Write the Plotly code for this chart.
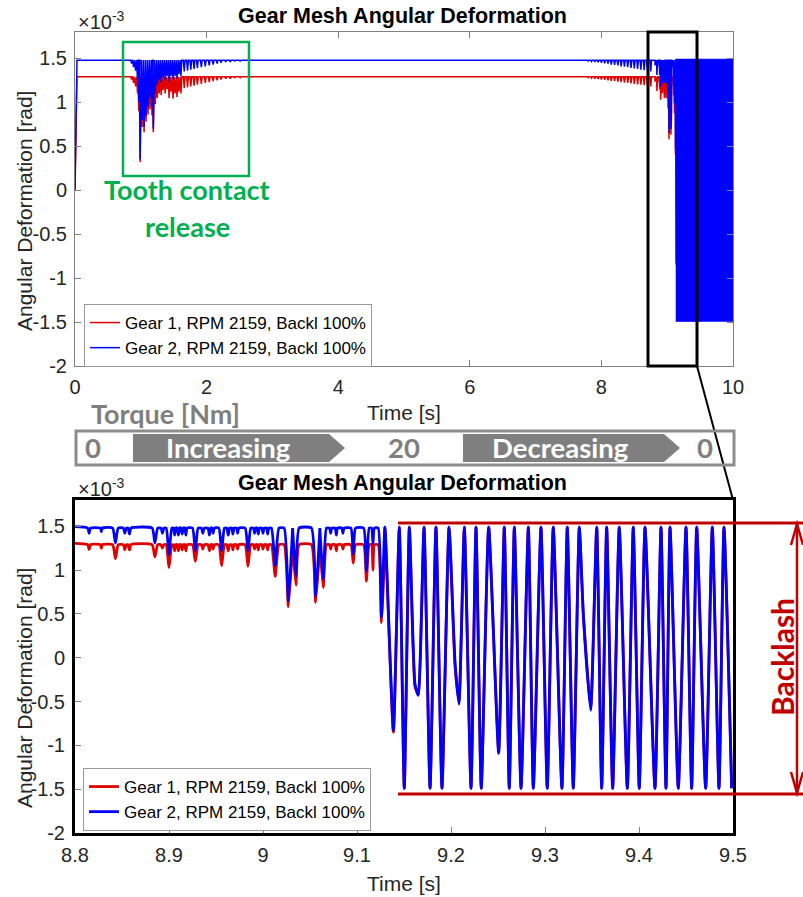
import plotly.graph_objects as go

W, H = 803, 897

# ---------------- data (angular deformation, x1e-3 rad) ----------------
series_names = ["Gear 1, RPM 2159, Backl 100%", "Gear 2, RPM 2159, Backl 100%"]

# start-up rise
rise_t = [0.0, 0.03]
rise_red = [0.0, 1.29]
rise_blue = [0.0, 1.48]
base_red = 1.29
base_blue = 1.48

# tooth contact release while torque increases (0.86 - 2.6 s)
comb1_t = [0.86, 0.89, 0.92, 0.95, 0.97, 0.99, 1.02, 1.05, 1.08, 1.11, 1.14, 1.17, 1.19,
           1.22, 1.25, 1.28, 1.31, 1.34, 1.37, 1.40, 1.43, 1.46, 1.49, 1.52, 1.55, 1.58,
           1.61, 1.66, 1.71, 1.76, 1.81, 1.86, 1.92, 1.98, 2.04, 2.10, 2.16, 2.22, 2.29,
           2.36, 2.43, 2.51, 2.59]
comb1_blue = [1.44, 1.40, 1.36, 1.25, 1.00, 0.35, 0.80, 0.72, 0.85, 0.95, 1.05, 0.95, 0.70,
              1.10, 1.20, 1.25, 1.22, 1.28, 1.25, 1.30, 1.24, 1.30, 1.26, 1.30, 1.27, 1.32,
              1.30, 1.35, 1.36, 1.37, 1.38, 1.39, 1.40, 1.41, 1.42, 1.43, 1.44, 1.45, 1.46,
              1.46, 1.47, 1.47, 1.48]
comb1_red = [1.26, 1.22, 1.18, 1.10, 0.90, 0.32, 0.72, 0.66, 0.78, 0.86, 0.92, 0.85, 0.66,
             0.98, 1.05, 1.10, 1.08, 1.14, 1.10, 1.15, 1.05, 1.12, 1.04, 1.10, 1.06, 1.12,
             1.10, 1.16, 1.17, 1.18, 1.19, 1.20, 1.21, 1.22, 1.23, 1.24, 1.25, 1.26, 1.27,
             1.27, 1.28, 1.28, 1.29]
comb1_w = [0.013] * len(comb1_t)

# tooth contact release while torque decreases (7.75 - 8.75 s)
comb2_t = [7.75, 7.80, 7.85, 7.90, 7.95, 8.00, 8.05, 8.10, 8.15, 8.20, 8.25, 8.30, 8.35,
           8.40, 8.45, 8.50, 8.55, 8.60, 8.65, 8.70, 8.75]
comb2_blue = [1.475, 1.47, 1.465, 1.46, 1.455, 1.45, 1.445, 1.44, 1.43, 1.425, 1.42, 1.41,
              1.405, 1.40, 1.39, 1.385, 1.38, 1.37, 1.365, 1.36, 1.35]
comb2_red = [1.285, 1.28, 1.275, 1.27, 1.265, 1.26, 1.255, 1.25, 1.245, 1.24, 1.235, 1.23,
             1.225, 1.22, 1.215, 1.21, 1.205, 1.20, 1.195, 1.19, 1.18]
comb2_w = [0.012] * len(comb2_t)

# mesh dips inside the zoom window before full contact loss (8.8 - 9.13 s)
dip_t = [8.815, 8.828, 8.843, 8.853, 8.858, 8.885, 8.893, 8.900, 8.906, 8.910, 8.914, 8.918,
         8.928, 8.936, 8.943, 8.947, 8.956, 8.963, 8.968, 8.973, 8.984, 8.991, 8.995, 9.000,
         9.005, 9.013, 9.027, 9.035, 9.056, 9.064, 9.072, 9.078, 9.085, 9.096, 9.110, 9.117,
         9.126]
dip_blue = [1.42, 1.44, 1.31, 1.42, 1.41, 1.31, 1.42, 1.18, 1.40, 1.40, 1.41, 1.40,
            1.22, 1.42, 1.40, 1.42, 1.22, 1.40, 1.41, 1.42, 1.22, 1.42, 1.41, 1.42,
            1.41, 1.05, 0.65, 0.93, 0.70, 0.89, 1.42, 1.40, 1.42, 1.18, 0.99, 1.30,
            0.46]
dip_red = [1.235, 1.25, 1.13, 1.23, 1.23, 1.15, 1.25, 1.03, 1.22, 1.22, 1.23, 1.22,
           1.10, 1.24, 1.22, 1.24, 1.05, 1.22, 1.23, 1.24, 1.045, 1.24, 1.23, 1.24,
           1.23, 0.93, 0.58, 0.83, 0.63, 0.80, 1.24, 1.22, 1.24, 1.08, 0.875, 1.00,
           0.40]
dip_w = [0.0015, 0.001, 0.003, 0.0015, 0.0015, 0.003, 0.0015, 0.003, 0.0012, 0.0012, 0.0012,
         0.0012, 0.003, 0.0015, 0.0015, 0.0012, 0.003, 0.0015, 0.0012, 0.0012, 0.003, 0.0012,
         0.0012, 0.0012, 0.0012, 0.004, 0.0045, 0.0035, 0.0045, 0.0035, 0.0012, 0.0012,
         0.0012, 0.0025, 0.003, 0.0015, 0.0035]

# backlash oscillation (peaks / troughs / shoulders), 9.13 - 9.5 s
osc_t = [9.1298, 9.1387, 9.1450, 9.1503, 9.1557, 9.1617, 9.1652, 9.1713, 9.1777, 9.1840,
         9.1904, 9.1979, 9.2043, 9.2085, 9.2142, 9.2213, 9.2266, 9.2322, 9.2401, 9.2507,
         9.2567, 9.2620, 9.2674, 9.2745, 9.2823, 9.2876, 9.2957, 9.3024, 9.3088, 9.3180,
         9.3237, 9.3301, 9.3365, 9.3408, 9.3486, 9.3550, 9.3603, 9.3656, 9.3720, 9.3790,
         9.3876, 9.3939, 9.4003, 9.4064, 9.4170, 9.4234, 9.4287, 9.4330, 9.4418, 9.4500,
         9.4560, 9.4614, 9.4709, 9.4780, 9.4851, 9.4904, 9.4986]
osc_blue = [1.49, -0.83, 1.49, -1.49, 1.49, -0.30, -0.43, 1.49, -1.49, 1.49,
            -1.49, 1.49, -0.05, -0.53, 1.49, -1.49, 1.49, -1.49, 1.49, -1.09,
            1.49, -1.49, 1.49, -1.49, 1.49, -1.49, 1.49, -1.49, 1.49, -1.49,
            1.49, -1.49, 1.49, 0.48, -0.60, 1.49, -1.49, 1.49, -1.49, 1.49,
            -1.49, 1.49, -1.49, 1.49, -1.49, 1.49, -1.49, 1.49, -1.49, 1.49,
            -1.49, 1.49, -1.49, 1.49, -1.49, 1.49, -1.49]
osc_red = [1.49, -0.85, 1.49, -1.49, 1.49, -0.33, -0.42, 1.49, -1.49, 1.49,
           -1.49, 1.49, -0.10, -0.50, 1.49, -1.49, 1.49, -1.49, 1.49, -1.06,
           1.49, -1.49, 1.49, -1.49, 1.49, -1.49, 1.49, -1.49, 1.49, -1.49,
           1.49, -1.49, 1.49, 0.50, -0.58, 1.49, -1.49, 1.49, -1.49, 1.49,
           -1.49, 1.49, -1.49, 1.49, -1.49, 1.49, -1.49, 1.49, -1.49, 1.49,
           -1.49, 1.49, -1.49, 1.49, -1.49, 1.49, -1.49]

# envelope of the (unresolved) backlash oscillation in the 0-10 s overview
env_t = [9.13, 10.0]
env_hi = [1.49, 1.49]
env_lo = [-1.49, -1.49]

# axis ticks
x1_ticks = [0, 2, 4, 6, 8, 10]
x1_text = ["0", "2", "4", "6", "8", "10"]
x2_ticks = [8.8, 8.9, 9.0, 9.1, 9.2, 9.3, 9.4, 9.5]
x2_text = ["8.8", "8.9", "9", "9.1", "9.2", "9.3", "9.4", "9.5"]
y_ticks = [-2, -1.5, -1, -0.5, 0, 0.5, 1, 1.5]
y_text = ["-2", "-1.5", "-1", "-0.5", "0", "0.5", "1", "1.5"]

torque_labels = ["0", "Increasing", "20", "Decreasing", "0"]

# ---------------- helpers ----------------
def pxx(x):
    return x / W


def pyy(y):
    return 1 - y / H


def dip_vertices(ts, mins, base, widths):
    xs, ys = [], []
    for t, m, w in zip(ts, mins, widths):
        xs += [t - w, t, t + w]
        ys += [base, m, base]
    return xs, ys


def build(rise_y, c1, c2, dips, base, osc):
    x, y = list(rise_t), list(rise_y)
    for ts, mins, ws in (c1, c2, dips):
        a, b = dip_vertices(ts, mins, base, ws)
        x += a
        y += b
    x += osc_t
    y += osc
    return x, y


red_x, red_y = build(rise_red, (comb1_t, comb1_red, comb1_w), (comb2_t, comb2_red, comb2_w),
                     (dip_t, dip_red, dip_w), base_red, osc_red)
blue_x, blue_y = build(rise_blue, (comb1_t, comb1_blue, comb1_w), (comb2_t, comb2_blue, comb2_w),
                       (dip_t, dip_blue, dip_w), base_blue, osc_blue)

RED = "#e00000"
BLUE = "#0000ff"
DARK = "#262626"
MFONT = "Liberation Sans, Arial, sans-serif"
PFONT = "Lato, Open Sans, sans-serif"
GREEN = "#00b050"
GRAY = "#7f7f7f"
BRED = "#c00000"

fig = go.Figure()
# overview
fig.add_trace(go.Scatter(x=red_x, y=red_y, mode="lines", line=dict(color=RED, width=1.5),
                         name=series_names[0], xaxis="x", yaxis="y", legend="legend"))
fig.add_trace(go.Scatter(x=blue_x, y=blue_y, mode="lines", line=dict(color=BLUE, width=1.5),
                         name=series_names[1], xaxis="x", yaxis="y", legend="legend"))
fig.add_trace(go.Scatter(x=env_t + env_t[::-1], y=env_hi + env_lo[::-1], mode="lines",
                         fill="toself", fillcolor=BLUE, line=dict(color=BLUE, width=1),
                         showlegend=False, xaxis="x", yaxis="y", hoverinfo="skip"))
# zoom
fig.add_trace(go.Scatter(x=red_x, y=red_y, mode="lines",
                         line=dict(color=RED, width=2.8, shape="spline", smoothing=0.5),
                         name=series_names[0], xaxis="x2", yaxis="y2", legend="legend2"))
fig.add_trace(go.Scatter(x=blue_x, y=blue_y, mode="lines",
                         line=dict(color=BLUE, width=2.8, shape="spline", smoothing=0.5),
                         name=series_names[1], xaxis="x2", yaxis="y2", legend="legend2"))

xdom = [pxx(75), pxx(733)]
tickfont = dict(family=MFONT, size=20, color=DARK)
common_x = dict(domain=xdom, ticks="inside", ticklen=6, showgrid=False, zeroline=False,
                showline=True, tickfont=tickfont, automargin=False)
common_y = dict(range=[-2, 1.8], tickvals=y_ticks, ticktext=y_text, ticks="inside", ticklen=6,
                showgrid=False, zeroline=False, showline=True, tickfont=tickfont,
                automargin=False)

legend_common = dict(bgcolor="white", bordercolor="#9a9a9a", borderwidth=1,
                     font=dict(family=MFONT, size=17, color="black"), xanchor="left",
                     yanchor="top", tracegroupgap=0, itemwidth=30)

fig.update_layout(
    template="none",
    width=W, height=H, margin=dict(l=0, r=0, t=0, b=0, pad=0, autoexpand=False),
    paper_bgcolor="white", plot_bgcolor="white",
    xaxis=dict(common_x, range=[0, 10], tickvals=x1_ticks, ticktext=x1_text, anchor="y",
               linecolor="#808080", linewidth=1, mirror="ticks", tickcolor="#808080",
               ticklabelstandoff=3),
    yaxis=dict(common_y, domain=[pyy(366), pyy(32)], anchor="x", linecolor="#808080",
               linewidth=1, mirror="ticks", tickcolor="#808080", ticklabelstandoff=3),
    xaxis2=dict(common_x, range=[8.8, 9.5], tickvals=x2_ticks, ticktext=x2_text, anchor="y2",
                linecolor="black", linewidth=3, mirror=True, tickcolor="#808080",
                ticklabelstandoff=2),
    yaxis2=dict(common_y, domain=[pyy(833), pyy(500)], anchor="x2", linecolor="black",
                linewidth=3, mirror=True, tickcolor="#808080", ticklabelstandoff=3),
    legend=dict(legend_common, x=pxx(84), y=pyy(304)),
    legend2=dict(legend_common, x=pxx(83), y=pyy(768)),
    showlegend=True,
)

ann = []


def text(x, y, s, size, color, family=MFONT, bold=False, angle=0, xanchor="center"):
    ann.append(dict(x=pxx(x), y=pyy(y), xref="paper", yref="paper", text=(f"<b>{s}</b>" if bold else s),
                    showarrow=False, font=dict(family=family, size=size, color=color),
                    textangle=angle, xanchor=xanchor, yanchor="middle"))


for ty in (16, 483):
    text(402, ty, "Gear Mesh Angular Deformation", 21.5, "black", bold=True)
text(76, 20, "×10<sup>-3</sup>", 20, DARK, xanchor="left")
text(76, 487, "×10<sup>-3</sup>", 20, DARK, xanchor="left")
text(24, 211, "Angular Deformation [rad]", 21, DARK, angle=-90)
text(24, 688, "Angular Deformation [rad]", 21, DARK, angle=-90)
text(404, 412, "Time [s]", 21, DARK)
text(404, 883, "Time [s]", 21, DARK)

text(187, 190, "Tooth contact", 27, GREEN, family=PFONT, bold=True)
text(187, 226, "release", 27, GREEN, family=PFONT, bold=True)
text(89, 413, "Torque [Nm]", 27, GRAY, family=PFONT, bold=True, xanchor="left")

bar_x = [93, 228, 404, 560, 705]
bar_col = [GRAY, "white", GRAY, "white", GRAY]
for bx, lab, col in zip(bar_x, torque_labels, bar_col):
    text(bx, 448, lab, 27.5, col, family=PFONT, bold=True)

text(782, 657, "Backlash", 30, BRED, family=PFONT, bold=True, angle=-90)

shapes = []


def rect(x0, y0, x1, y1, color, width, fill=None):
    shapes.append(dict(type="rect", xref="paper", yref="paper", x0=pxx(x0), x1=pxx(x1),
                       y0=pyy(y0), y1=pyy(y1), line=dict(color=color, width=width),
                       fillcolor=fill if fill else "rgba(0,0,0,0)", layer="above"))


def line(x0, y0, x1, y1, color, width):
    shapes.append(dict(type="line", xref="paper", yref="paper", x0=pxx(x0), x1=pxx(x1),
                       y0=pyy(y0), y1=pyy(y1), line=dict(color=color, width=width), layer="above"))


def path(points, color, width, fill=None, closed=False):
    d = "M " + " L ".join(f"{pxx(a):.5f},{pyy(b):.5f}" for a, b in points)
    if closed:
        d += " Z"
    shapes.append(dict(type="path", xref="paper", yref="paper", path=d,
                       line=dict(color=color, width=width),
                       fillcolor=fill if fill else "rgba(0,0,0,0)", layer="above"))


rect(123, 42, 249, 176, GREEN, 2.5)
rect(648, 32, 697, 366, "black", 3)
line(697, 366, 733, 500, "black", 2)

rect(76, 431, 734, 465, "#8c8c8c", 3)
path([(133, 434), (329, 434), (345, 448), (329, 462), (133, 462)], GRAY, 0, fill=GRAY, closed=True)
path([(463, 434), (664, 434), (680, 448), (664, 462), (463, 462)], GRAY, 0, fill=GRAY, closed=True)

line(398, 523, 803, 523, BRED, 3)
line(398, 794, 803, 794, BRED, 3)
line(797, 524, 797, 793, BRED, 2.5)
path([(791, 545), (797, 524), (803, 545)], BRED, 2.5)
path([(791, 772), (797, 793), (803, 772)], BRED, 2.5)

fig.update_layout(annotations=ann, shapes=shapes)

fig.write_html(
    "out.html",
    config={"displayModeBar": False},
    post_script="document.body.style.margin='0';document.body.style.overflow='hidden';",
)
